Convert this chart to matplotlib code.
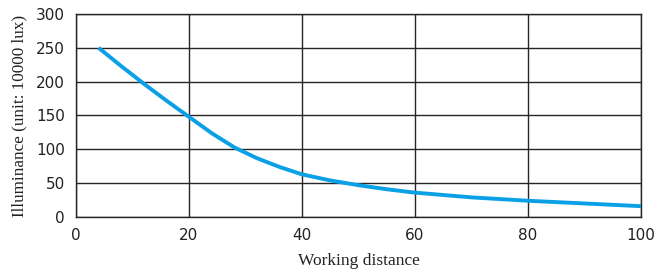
import matplotlib
matplotlib.use("Agg")
import matplotlib.pyplot as plt

distance = [4, 8, 12, 16, 20, 24, 28, 32, 36, 40, 45, 50, 55, 60, 70, 80, 90, 100]
illuminance = [250, 223, 197, 172, 148, 124, 103, 87, 74, 63, 54, 47, 41, 36, 29, 24, 20, 16]

x_ticks = [0, 20, 40, 60, 80, 100]
y_ticks = [0, 50, 100, 150, 200, 250, 300]

fig = plt.figure(figsize=(6.69, 2.73), dpi=100)
ax = fig.add_axes([76/669, 1-217/273, (641-76)/669, (217-14)/273])

ax.plot(distance, illuminance, color="#0AA0E6", linewidth=2.8, solid_capstyle="butt",
        solid_joinstyle="round", zorder=3)

ax.set_xlim(0, 100)
ax.set_ylim(0, 300)
ax.set_xticks(x_ticks)
ax.set_yticks(y_ticks)
ax.grid(True, color="#2a2424", linewidth=1.0)
for s in ax.spines.values():
    s.set_color("#2a2424")
    s.set_linewidth(1.0)
ax.tick_params(length=0, labelsize=11, colors="#222222", pad=8)
for lab in ax.get_xticklabels() + ax.get_yticklabels():
    lab.set_family("DejaVu Sans")
ax.set_xlabel("Working distance", family="Liberation Serif", fontsize=12.5, color="#222222", labelpad=7)
ax.set_ylabel("Illuminance (unit: 10000 lux)", family="Liberation Serif", fontsize=12.3, color="#222222", labelpad=6)

fig.savefig("out.png", dpi=100)
